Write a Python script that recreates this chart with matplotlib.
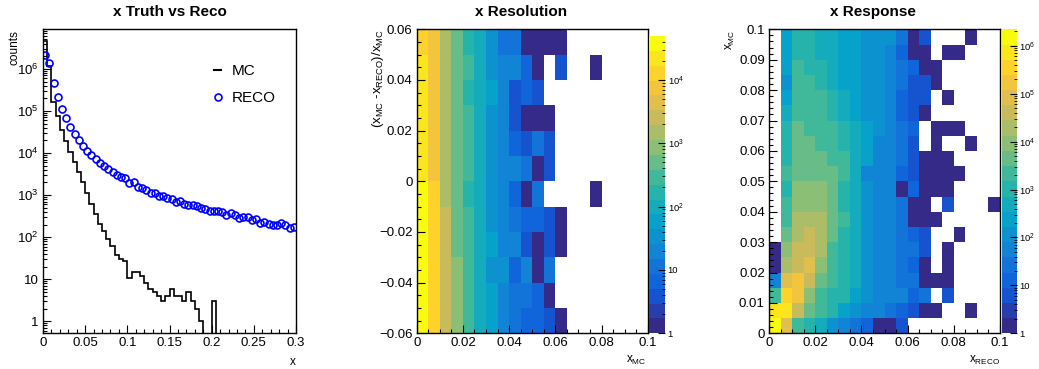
import numpy as np
import matplotlib
matplotlib.use('Agg')
import matplotlib.pyplot as plt
from matplotlib.colors import LinearSegmentedColormap, ListedColormap, LogNorm
from matplotlib.lines import Line2D
from matplotlib.ticker import MultipleLocator, FixedLocator, FuncFormatter, NullFormatter

plt.rcParams['font.family'] = ['Liberation Sans', 'DejaVu Sans']
plt.rcParams['mathtext.fontset'] = 'custom'
plt.rcParams['mathtext.rm'] = 'Liberation Sans'
plt.rcParams['mathtext.it'] = 'Liberation Sans:italic'
plt.rcParams['mathtext.bf'] = 'Liberation Sans:bold'

# ---- panel 1 : x truth vs reco (60 bins, 0..0.3)
x_edges = np.linspace(0, 0.3, 61)
mc_counts = [4.7e6, 1.15e6, 1.6e5, 7.4e4, 3.6e4, 1.9e4, 1.04e4, 6.0e3, 3.5e3, 2.0e3,
             1150, 610, 355, 205, 142, 93, 63, 38, 30, 27,
             11, 15, 15, 12, 8, 6, 5, 4, 3, 4,
             6, 4, 4, 3, 5, 3, 2, 1, 0, 0,
             3, 0, 0, 0, 0, 0, 0, 0, 0, 0,
             0, 0, 0, 0, 0, 0, 0, 0, 0, 0]
reco_counts = [2.1e6, 1.35e6, 4.7e5, 2.1e5, 1.1e5, 6.7e4, 4.2e4, 2.8e4, 2.0e4, 1.5e4,
               1.1e4, 8.8e3, 7.2e3, 5.8e3, 4.9e3, 4.1e3, 3.5e3, 3.0e3, 2.7e3, 2.5e3,
               1.9e3, 2.0e3, 1.55e3, 1.5e3, 1.3e3, 1.15e3, 1.1e3, 960, 960, 850,
               790, 680, 720, 610, 590, 580, 540, 490, 465, 425,
               410, 410, 395, 335, 370, 335, 290, 305, 295, 260,
               270, 215, 235, 205, 195, 200, 215, 190, 167, 173]

# ---- panel 2 : resolution, x_MC 0..0.1 (20 bins) vs (x_MC-x_RECO)/x_MC -0.06..0.06 (12 bins)
# rows listed from top (0.06) to bottom (-0.06)
res_xedges = np.linspace(0, 0.1, 21)
res_yedges = np.linspace(-0.06, 0.06, 13)
res_counts = [
    [12700, 7400, 1450, 500, 170, 100, 34, 11, 11, 1, 1, 1, 1, 0, 0, 0, 0, 0, 0, 0],
    [22000, 7400, 1450, 500, 290, 100, 34, 20, 20, 7, 1, 0, 4, 0, 0, 1, 0, 0, 0, 0],
    [22000, 7400, 1450, 500, 170, 100, 58, 20, 4, 7, 4, 0, 0, 0, 0, 0, 0, 0, 0, 0],
    [22000, 7400, 1450, 500, 290, 100, 34, 20, 4, 1, 1, 1, 0, 0, 0, 0, 0, 0, 0, 0],
    [22000, 7400, 1450, 500, 290, 100, 34, 20, 7, 4, 11, 4, 0, 0, 0, 0, 0, 0, 0, 0],
    [22000, 7400, 1450, 500, 290, 100, 34, 20, 20, 11, 1, 4, 0, 0, 0, 0, 0, 0, 0, 0],
    [38000, 12700, 1450, 500, 170, 100, 34, 20, 7, 1, 11, 0, 0, 0, 0, 1, 0, 0, 0, 0],
    [38000, 12700, 2500, 500, 290, 100, 34, 20, 11, 7, 7, 4, 1, 0, 0, 0, 0, 0, 0, 0],
    [38000, 12700, 2500, 500, 290, 100, 58, 20, 20, 4, 1, 4, 1, 0, 0, 0, 0, 0, 0, 0],
    [38000, 12700, 2500, 850, 290, 100, 34, 34, 7, 20, 1, 11, 0, 0, 0, 0, 0, 0, 0, 0],
    [38000, 12700, 2500, 850, 290, 100, 58, 20, 11, 11, 7, 1, 0, 0, 0, 0, 0, 0, 0, 0],
    [38000, 12700, 2500, 850, 290, 100, 58, 20, 11, 7, 7, 4, 1, 0, 0, 0, 0, 0, 0, 0],
]
res_zmax = 4.9e4

# ---- panel 3 : response, x_RECO 0..0.1 (20 bins) vs x_MC 0..0.1 (20 bins)
# rows listed from top (x_MC = 0.1) to bottom (x_MC = 0)
rsp_edges = np.linspace(0, 0.1, 21)
rsp_counts = [
    [0, 240, 1000, 1000, 500, 500, 240, 240, 115, 115, 115, 27, 1, 6, 0, 0, 0, 1, 0, 0],
    [0, 240, 1000, 1000, 500, 500, 240, 240, 115, 115, 55, 13, 1, 1, 0, 1, 1, 0, 0, 0],
    [0, 240, 2100, 1000, 1000, 500, 240, 240, 115, 115, 55, 27, 13, 1, 1, 0, 0, 0, 0, 0],
    [0, 115, 2100, 2100, 1000, 500, 240, 240, 115, 115, 55, 27, 6, 6, 1, 0, 0, 0, 0, 0],
    [0, 240, 2100, 2100, 2100, 1000, 500, 240, 115, 115, 55, 13, 6, 6, 0, 1, 0, 0, 0, 0],
    [0, 500, 2100, 2100, 2100, 1000, 500, 240, 115, 115, 55, 13, 6, 1, 0, 0, 0, 0, 0, 0],
    [0, 1000, 4400, 2100, 2100, 2100, 1000, 500, 240, 115, 55, 27, 13, 0, 1, 1, 1, 0, 0, 0],
    [0, 1000, 4400, 4400, 2100, 2100, 1000, 500, 240, 55, 55, 27, 6, 0, 1, 0, 0, 1, 0, 0],
    [0, 1000, 4400, 4400, 4400, 2100, 2100, 500, 240, 55, 55, 27, 6, 1, 1, 1, 0, 0, 0, 0],
    [0, 2100, 4400, 4400, 4400, 4400, 2100, 500, 55, 55, 55, 13, 6, 1, 1, 1, 1, 0, 0, 0],
    [0, 1000, 9200, 9200, 9200, 4400, 1000, 500, 115, 55, 55, 1, 13, 1, 1, 1, 0, 0, 0, 0],
    [0, 2100, 9200, 9200, 9200, 4400, 1000, 500, 115, 55, 55, 27, 1, 1, 0, 6, 0, 0, 0, 1],
    [0, 2100, 19000, 19000, 19000, 4400, 2100, 500, 115, 55, 55, 27, 1, 1, 1, 0, 0, 0, 0, 0],
    [0, 4400, 19000, 40000, 19000, 4400, 1000, 500, 115, 55, 55, 27, 13, 6, 0, 0, 1, 0, 0, 0],
    [1, 9200, 40000, 40000, 19000, 2100, 1000, 500, 115, 55, 55, 27, 27, 6, 0, 1, 0, 0, 0, 0],
    [1, 19000, 40000, 82000, 9200, 2100, 1000, 500, 115, 55, 55, 27, 13, 1, 0, 1, 0, 0, 0, 0],
    [55, 82000, 170000, 40000, 4400, 2100, 1000, 500, 115, 55, 55, 27, 27, 1, 1, 1, 0, 0, 0, 0],
    [2100, 350000, 170000, 9200, 2100, 1000, 1000, 240, 115, 55, 55, 55, 13, 27, 0, 6, 0, 0, 0, 0],
    [730000, 730000, 40000, 4400, 2100, 1000, 240, 115, 55, 55, 27, 13, 6, 1, 1, 0, 0, 1, 0, 0],
    [1500000, 82000, 2100, 1000, 500, 115, 55, 27, 13, 1, 1, 6, 0, 0, 0, 0, 0, 0, 0, 0],
]
rsp_zmax = 2.2e6

# ROOT kBird palette, 20 contour levels
stops = [0.0, 0.125, 0.25, 0.375, 0.5, 0.625, 0.75, 0.875, 1.0]
red = [0.2082, 0.0592, 0.0780, 0.0232, 0.1802, 0.5301, 0.8186, 0.9956, 0.9764]
green = [0.1664, 0.3599, 0.5041, 0.6419, 0.7178, 0.7492, 0.7328, 0.7862, 0.9832]
blue = [0.5293, 0.8684, 0.8385, 0.7914, 0.6425, 0.4662, 0.3499, 0.1968, 0.0539]
bird = LinearSegmentedColormap.from_list('bird', list(zip(stops, zip(red, green, blue))))
bird20 = ListedColormap(bird(np.linspace(0, 1, 20)))


def lin_fmt(v, pos):
    if abs(v) < 1e-9:
        return '0'
    return ('%g' % round(v, 6)).replace('-', '\u2212')


def log_fmt(v, pos):
    e = int(round(np.log10(v)))
    if e == 0:
        return '1'
    if e == 1:
        return '10'
    return r'$\mathdefault{10^{%d}}$' % e


def log_ticks(axis, lo, hi):
    # decades and 2..9 sub-ticks, only inside [lo, hi]
    dec = 10.0 ** np.arange(np.floor(np.log10(lo)), np.ceil(np.log10(hi)) + 1)
    sub = np.outer(dec, np.arange(2, 10)).ravel()
    axis.set_major_locator(FixedLocator(dec[(dec >= lo) & (dec <= hi)]))
    axis.set_minor_locator(FixedLocator(sub[(sub >= lo) & (sub <= hi)]))
    axis.set_major_formatter(FuncFormatter(log_fmt))
    axis.set_minor_formatter(NullFormatter())


def root_style(ax):
    ax.tick_params(which='both', direction='in', top=False, right=False, labelsize=9.5)
    ax.tick_params(which='major', length=6, width=0.8, pad=3)
    ax.tick_params(which='minor', length=3, width=0.8)
    for s in ax.spines.values():
        s.set_linewidth(1.0)


def root_palette(fig, mesh, rect, zmax):
    cax = fig.add_axes(rect)
    cb = fig.colorbar(mesh, cax=cax)
    cb.outline.set_visible(False)
    log_ticks(cax.yaxis, 1, zmax)
    cax.tick_params(which='both', direction='in', right=True, left=False, labelsize=6.8)
    cax.tick_params(which='major', length=5, pad=2)
    cax.tick_params(which='minor', length=2.5)
    return cax


W, H = 1039, 369
fig = plt.figure(figsize=(W / 100, H / 100), dpi=100)
bot = (H - 333.3) / H
hgt = (333.3 - 29.3) / H

# ---------------- panel 1
ax1 = fig.add_axes([43 / W, bot, 253 / W, hgt])
mc = np.array(mc_counts, dtype=float)
ax1.stairs(np.where(mc > 0, mc, 1e-3), x_edges, color='black', lw=1.2, baseline=None)
centers = 0.5 * (x_edges[:-1] + x_edges[1:])
ax1.plot(centers, reco_counts, ls='none', marker='o', mfc='none', mec='#0000ff', ms=5, mew=1.2)
ax1.set_yscale('log')
ax1.set_xlim(0, 0.3)
ax1.set_ylim(0.52, 8.7e6)
ax1.xaxis.set_major_locator(MultipleLocator(0.05))
ax1.xaxis.set_minor_locator(MultipleLocator(0.01))
ax1.xaxis.set_major_formatter(FuncFormatter(lin_fmt))
log_ticks(ax1.yaxis, 0.52, 8.7e6)
root_style(ax1)
h_mc = Line2D([], [], color='black', lw=1.5)
h_reco = Line2D([], [], ls='none', marker='o', mfc='none', mec='#0000ff', ms=5, mew=1.2)
ax1.legend([h_mc, h_reco], ['MC', 'RECO'], loc='upper left', bbox_to_anchor=(0.675, 0.885),
           frameon=False, fontsize=11, handlelength=0.5, handletextpad=0.65,
           labelspacing=0.85, borderpad=0, borderaxespad=0)
fig.text(170 / W, 1 - 12 / H, 'x Truth vs Reco', ha='center', va='center',
         fontsize=11, fontweight='bold')
fig.text(14 / W, 1 - 30 / H, 'counts', rotation=90, ha='center', va='top', fontsize=8.5)
fig.text(296 / W, 1 - 362 / H, 'x', ha='right', va='center', fontsize=8.5)

# ---------------- panel 2
ax2 = fig.add_axes([416.7 / W, bot, 231 / W, hgt])
z2 = np.ma.masked_less_equal(np.array(res_counts, dtype=float)[::-1], 0)
m2 = ax2.pcolormesh(res_xedges, res_yedges, z2, cmap=bird20, norm=LogNorm(1, res_zmax))
ax2.set_xlim(0, 0.1)
ax2.set_ylim(-0.06, 0.06)
ax2.xaxis.set_major_locator(MultipleLocator(0.02))
ax2.xaxis.set_minor_locator(MultipleLocator(0.005))
ax2.yaxis.set_major_locator(MultipleLocator(0.02))
ax2.yaxis.set_minor_locator(MultipleLocator(0.005))
ax2.xaxis.set_major_formatter(FuncFormatter(lin_fmt))
ax2.yaxis.set_major_formatter(FuncFormatter(lin_fmt))
root_style(ax2)
root_palette(fig, m2, [649.3 / W, bot, 15.7 / W, (333.3 - 36) / H], res_zmax)
fig.text(521 / W, 1 - 12 / H, 'x Resolution', ha='center', va='center',
         fontsize=11, fontweight='bold')
fig.text(378 / W, 1 - 29 / H,
         r'(x$_{\mathdefault{MC}}$ -x$_{\mathdefault{RECO}}$)/x$_{\mathdefault{MC}}$',
         rotation=90, ha='center', va='top', fontsize=9.5)
fig.text(646 / W, 1 - 360 / H, r'x$_{\mathdefault{MC}}$', ha='right', va='center', fontsize=8.5)

# ---------------- panel 3
ax3 = fig.add_axes([769 / W, bot, 231 / W, hgt])
z3 = np.ma.masked_less_equal(np.array(rsp_counts, dtype=float)[::-1], 0)
m3 = ax3.pcolormesh(rsp_edges, rsp_edges, z3, cmap=bird20, norm=LogNorm(1, rsp_zmax))
ax3.set_xlim(0, 0.1)
ax3.set_ylim(0, 0.1)
ax3.xaxis.set_major_locator(MultipleLocator(0.02))
ax3.xaxis.set_minor_locator(MultipleLocator(0.005))
ax3.yaxis.set_major_locator(MultipleLocator(0.01))
ax3.yaxis.set_minor_locator(MultipleLocator(0.002))
ax3.xaxis.set_major_formatter(FuncFormatter(lin_fmt))
ax3.yaxis.set_major_formatter(FuncFormatter(lin_fmt))
root_style(ax3)
root_palette(fig, m3, [1001.7 / W, bot, 15 / W, hgt], rsp_zmax)
fig.text(873 / W, 1 - 12 / H, 'x Response', ha='center', va='center',
         fontsize=11, fontweight='bold')
fig.text(730 / W, 1 - 30 / H, r'x$_{\mathdefault{MC}}$', rotation=90, ha='center',
         va='top', fontsize=8.5)
fig.text(1000 / W, 1 - 360 / H, r'x$_{\mathdefault{RECO}}$', ha='right', va='center',
         fontsize=8.5)

fig.savefig('out.png', dpi=100)
